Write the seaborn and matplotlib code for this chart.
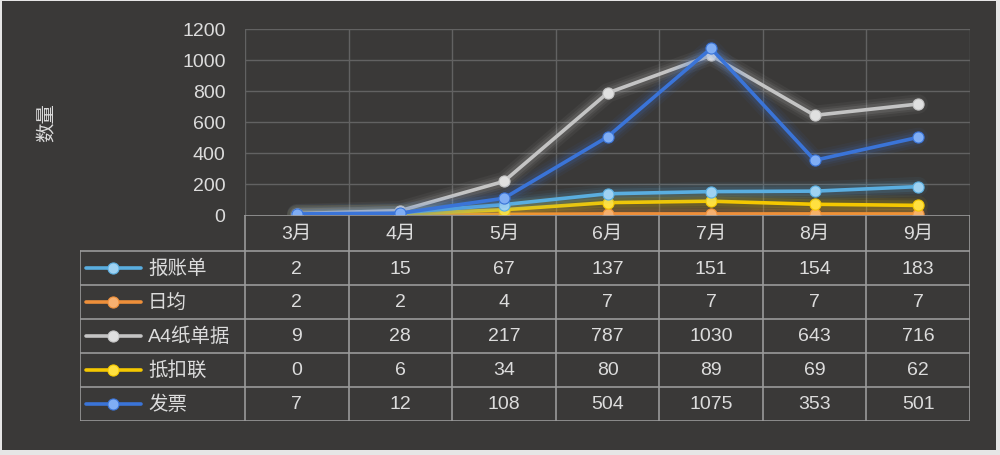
import pandas as pd
import matplotlib.pyplot as plt
import seaborn as sns

months = ["3月", "4月", "5月", "6月", "7月", "8月", "9月"]
series_names = ["报账单", "日均", "A4纸单据", "抵扣联", "发票"]
baozhang = [2, 15, 67, 137, 151, 154, 183]
rijun = [2, 2, 4, 7, 7, 7, 7]
a4 = [9, 28, 217, 787, 1030, 643, 716]
dikou = [0, 6, 34, 80, 89, 69, 62]
fapiao = [7, 12, 108, 504, 1075, 353, 501]
yticks = [0, 200, 400, 600, 800, 1000, 1200]

colors = {"报账单": "#5aaee0", "日均": "#ee8f3a", "A4纸单据": "#c4c4c4",
          "抵扣联": "#f5c800", "发票": "#3a74d8"}
marker_fill = {"报账单": "#9fd2f2", "日均": "#f6b070", "A4纸单据": "#e0e0e0",
               "抵扣联": "#ffe040", "发票": "#80aef5"}

values = {"报账单": baozhang, "日均": rijun, "A4纸单据": a4, "抵扣联": dikou, "发票": fapiao}
rows = []
for name in series_names:
    for i, m in enumerate(months):
        rows.append({"month": m, "x": i, "series": name, "value": values[name][i]})
df = pd.DataFrame(rows)

sns.set_theme(style="dark")
plt.rcParams['font.family'] = ['Liberation Sans', 'Noto Sans CJK SC', 'DejaVu Sans']

bg = "#3a3938"
txt = "#dcdcdc"
gridc = "#626262"
tablec = "#9a9a9a"

fig = plt.figure(figsize=(10, 4.56), dpi=100)
fig.patch.set_facecolor("#e6e6e6")
fig.add_artist(plt.Rectangle((0.002, 0.012), 0.994, 0.984, transform=fig.transFigure,
                             facecolor=bg, edgecolor="none", zorder=-10))

ax = fig.add_axes([0.245, 1 - 216 / 456, 0.725, 186 / 456])
ax.set_facecolor("none")

draw_order = ["日均", "抵扣联", "报账单", "A4纸单据", "发票"]
for z, name in enumerate(draw_order):
    sub = df[df["series"] == name]
    # glow
    for lw, a in [(14, 0.06), (10, 0.08), (7, 0.12)]:
        sns.lineplot(data=sub, x="x", y="value", color=colors[name], linewidth=lw,
                     alpha=a, ax=ax, legend=False, zorder=2 + z)
    sns.lineplot(data=sub, x="x", y="value", color=colors[name], linewidth=2.6,
                 marker="o", markersize=8, markerfacecolor=marker_fill[name],
                 markeredgecolor=colors[name], markeredgewidth=0.8,
                 ax=ax, legend=False, zorder=2 + z)

ax.set_xlim(-0.5, 6.5)
ax.set_ylim(0, 1200)
ax.set_yticks(yticks)
ax.set_yticklabels([str(v) for v in yticks], color=txt, fontsize=14)
ax.set_xticks([])
for k in range(8):
    ax.axvline(k - 0.5, color=gridc, linewidth=1, zorder=1)
for v in yticks[1:]:
    ax.axhline(v, color=gridc, linewidth=1, zorder=1)
ax.tick_params(axis="y", length=0, pad=14)
ax.set_xlabel("")
ax.set_ylabel("数量", color=txt, fontsize=14, labelpad=0)
ax.yaxis.set_label_coords(-0.26, 0.50)
ax.grid(False)
for s in ax.spines.values():
    s.set_visible(False)

# data table
tab = fig.add_axes([0.08, 1 - 422 / 456, 0.89, 206 / 456])
tab.set_facecolor("none")
unit = 725 / 7
left = -0.5 - 165 / unit
tab.set_xlim(left, 6.5)
tab.set_ylim(206, 0)
tab.axis("off")

def px(p):
    return left + (p - 80) / unit

bounds = [0, 36, 70, 104, 138, 172, 206]
tab.plot([-0.5, 6.5], [0, 0], color=tablec, linewidth=1.2)
for b in bounds[1:]:
    tab.plot([left, 6.5], [b, b], color=tablec, linewidth=1.2)
tab.plot([left, left], [36, 206], color=tablec, linewidth=1.2)
for k in range(8):
    tab.plot([k - 0.5, k - 0.5], [0, 206], color=tablec, linewidth=1.2)

for i, m in enumerate(months):
    tab.text(i, 18, m, ha="center", va="center", color=txt, fontsize=14)

for r, name in enumerate(series_names):
    yc = (bounds[r + 1] + bounds[r + 2]) / 2
    tab.plot([px(86), px(141)], [yc, yc], color=colors[name], linewidth=2.6)
    tab.plot([px(113)], [yc], marker="o", markersize=8, color=colors[name],
             markerfacecolor=marker_fill[name], markeredgewidth=0.8)
    tab.text(px(148), yc, name, ha="left", va="center", color=txt, fontsize=14)
    for i, v in enumerate(values[name]):
        tab.text(i, yc, str(v), ha="center", va="center", color=txt, fontsize=14)

fig.savefig("out.png", dpi=100, facecolor=fig.get_facecolor())
